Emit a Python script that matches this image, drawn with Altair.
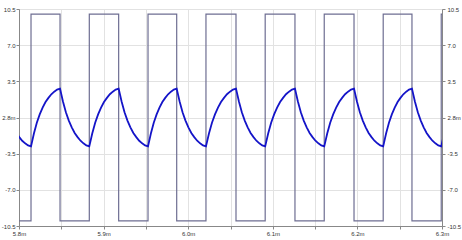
import altair as alt
import pandas as pd

# Square wave edges (ms)
rise_edges = [5.8142, 5.8831, 5.9525, 6.0210, 6.0910, 6.1608, 6.2305, 6.2991]
fall_edges = [5.7795, 5.8485, 5.9178, 5.9864, 6.0565, 6.1262, 6.1960, 6.2645, 6.3337]
sq_high = 10.0
sq_low = -10.0

# Capacitor voltage shape over one half-period
shape_frac = [0.0, 0.1, 0.2, 0.3, 0.4, 0.5, 0.6, 0.7, 0.8, 0.9, 1.0]
rise_shape = [-2.8, -1.55, -0.5, 0.3, 0.95, 1.5, 1.9, 2.25, 2.5, 2.7, 2.8]
fall_shape = [2.8, 1.55, 0.5, -0.3, -0.95, -1.5, -1.9, -2.25, -2.5, -2.7, -2.8]

x_tick_vals = [5.8, 5.85, 5.9, 5.95, 6.0, 6.05, 6.1, 6.15, 6.2, 6.25, 6.3]
x_tick_labels = ["5.8m", "", "5.9m", "", "6.0m", "", "6.1m", "", "6.2m", "", "6.3m"]
y_tick_vals = [-10.5, -7.0, -3.5, 0.0, 3.5, 7.0, 10.5]
y_tick_labels = ["-10.5", "-7.0", "-3.5", "2.8m", "3.5", "7.0", "10.5"]

# square wave table
sq_rows = [{"t": 5.8, "v": sq_low}]
for r, f in zip(rise_edges, fall_edges[1:] + [None]):
    sq_rows.append({"t": r, "v": sq_high})
    if f is not None and f <= 6.3:
        sq_rows.append({"t": f, "v": sq_low})
sq_rows.append({"t": 6.3, "v": sq_high})
sq_df = pd.DataFrame(sq_rows)

# capacitor voltage table
edges = sorted([(t, "f") for t in fall_edges] + [(t, "r") for t in rise_edges])
cap_rows = []
for (t0, kind), (t1, _) in zip(edges[:-1], edges[1:]):
    shp = rise_shape if kind == "r" else fall_shape
    for fr, v in zip(shape_frac, shp):
        cap_rows.append({"t": t0 + fr * (t1 - t0), "v": v})
cap_df = pd.DataFrame(cap_rows)


def label_expr(vals, labels):
    expr = "''"
    for v, l in zip(vals, labels):
        expr = f"abs(datum.value - ({v})) < 0.001 ? '{l}' : ({expr})"
    return expr


font = "Liberation Sans"
xscale = alt.Scale(domain=[5.8, 6.3], nice=False, zero=False)
yscale = alt.Scale(domain=[-10.5, 10.5], nice=False, zero=False)

x_axis = alt.Axis(values=x_tick_vals, labelExpr=label_expr(x_tick_vals, x_tick_labels),
                  title=None, grid=True, gridColor="#e2e2e2", tickSize=3, labelPadding=1,
                  domainColor="#888", tickColor="#888", labelFont=font, labelFontSize=6,
                  labelColor="#333", labelFlush=False)
y_axis = alt.Axis(values=y_tick_vals, labelExpr=label_expr(y_tick_vals, y_tick_labels),
                  title=None, grid=True, gridColor="#e2e2e2", tickSize=3, labelPadding=1,
                  domainColor="#888", tickColor="#888", labelFont=font, labelFontSize=6,
                  labelColor="#333", labelFlush=False)
y_axis_r = alt.Axis(values=y_tick_vals, labelExpr=label_expr(y_tick_vals, y_tick_labels),
                    title=None, grid=False, tickSize=3, labelPadding=2, orient="right",
                    domainColor="#888", tickColor="#888", labelFont=font, labelFontSize=6,
                    labelColor="#333", labelFlush=False)

sq = alt.Chart(sq_df).mark_line(interpolate="step-after", color="#6e6e92",
                                strokeWidth=1.2, clip=True).encode(
    x=alt.X("t:Q", scale=xscale, axis=x_axis),
    y=alt.Y("v:Q", scale=yscale, axis=y_axis),
    order="t:Q",
)
cap = alt.Chart(cap_df).mark_line(color="#1414c8", strokeWidth=1.8, clip=True).encode(
    x=alt.X("t:Q", scale=xscale, axis=x_axis),
    y=alt.Y("v:Q", scale=yscale, axis=y_axis_r),
    order="t:Q",
)

chart = alt.layer(sq, cap).resolve_axis(y="independent").properties(
    width=423, height=217,
    autosize=alt.AutoSizeParams(type="none"),
    padding={"left": 19, "top": 9, "right": 20, "bottom": 14},
).configure_view(stroke="#999", strokeWidth=1).configure(background="white")

chart.save("out.html", embed_options={"renderer": "svg", "actions": False})
